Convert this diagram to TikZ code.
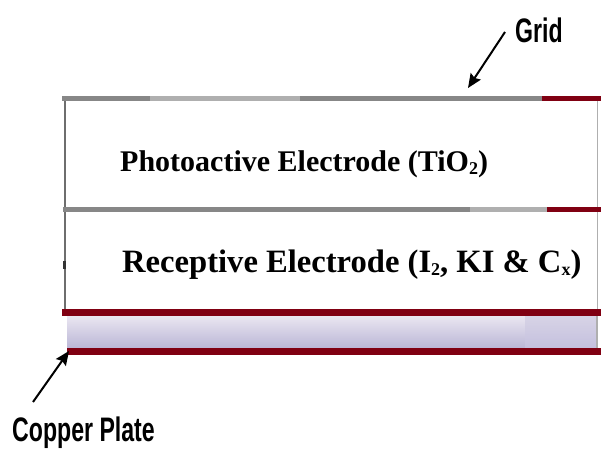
\documentclass[tikz,border=0pt]{standalone}
\usepackage{fontspec}
\setmainfont{Liberation Serif}
\newfontfamily\narrowfont[FakeStretch=0.68]{Liberation Sans}
\usetikzlibrary{arrows.meta}
\definecolor{dred}{RGB}{128,0,18}
\definecolor{gline}{RGB}{135,135,135}
\definecolor{gedge}{RGB}{110,110,110}
\definecolor{lgline}{RGB}{175,175,175}
\definecolor{bandtop}{RGB}{236,232,242}
\definecolor{bandmid}{RGB}{222,216,234}
\definecolor{bandbot}{RGB}{186,182,214}
\definecolor{blocktop}{RGB}{216,212,230}
\definecolor{blockbot}{RGB}{196,192,222}
\newcommand\sbx[1]{\raisebox{-0.1em}{\fontsize{18}{18}\selectfont #1}}
\tikzset{
  grayline/.style={draw=gline, line width=5pt},
  redline/.style={draw=dred, line width=7pt},
  edgeline/.style={draw=gedge, line width=2.2pt},
  layertext/.style={font=\fontsize{30}{30}\selectfont\bfseries, anchor=base west, inner sep=0pt},
  calltext/.style={font=\narrowfont\fontsize{34}{34}\selectfont\bfseries, anchor=base west, inner sep=0pt},
  pointer/.style={draw=black, line width=2pt, -{Stealth[length=14pt,width=12pt,inset=2pt]}}
}
\begin{document}
\begin{tikzpicture}[x=1pt,y=-1pt]
\useasboundingbox (0,0) rectangle (601,450);
\fill[white] (0,0) rectangle (601,450);
% vertical edges
\draw[edgeline] (65,97) -- (65,309);
\draw[draw=black!80, line width=3.5pt] (64.5,261) -- (64.5,269);
\draw[draw=lgline, line width=1.8pt] (597.5,100) -- (597.5,309);
% top grid line
\draw[grayline] (62,98) -- (542,98);
\draw[draw=lgline, line width=5pt] (150,98) -- (300,98);
\draw[draw=dred, line width=5pt] (542,98) -- (601,98);
% middle line
\draw[grayline] (63,209) -- (470,209);
\draw[draw=lgline, line width=5pt] (470,209) -- (547,209);
\draw[draw=dred, line width=5pt] (547,209) -- (601,209);
% copper band
\shade[top color=bandtop, middle color=bandmid, bottom color=bandbot] (67,315) rectangle (525,348);
\shade[top color=blocktop, bottom color=blockbot] (525,315) rectangle (596,348);
\draw[draw=lgline, line width=1.5pt] (597,315) -- (597,348);
% red lines
\draw[redline] (62,312) -- (601,312);
\draw[redline] (67,351) -- (601,351);
% texts
\node[layertext] (photo) at (120,171) {Photoactive Electrode (TiO\sbx{2})};
\node[layertext, font=\fontsize{32.6}{32.6}\selectfont\bfseries] (recep) at (122,272) {Receptive Electrode (I\sbx{2}, KI \& C\sbx{x})};
\node[calltext] (grid) at (515,42) {Grid};
\node[calltext] (copper) at (12,441) {Copper Plate};
% pointers
\coordinate (gridtail) at (505,32);
\coordinate (gridtip) at (468,88);
\coordinate (coppertail) at (33,402);
\coordinate (coppertip) at (69,351);
\draw[pointer] (gridtail) -- (gridtip);
\draw[pointer] (coppertail) -- (coppertip);
\end{tikzpicture}
\end{document}
